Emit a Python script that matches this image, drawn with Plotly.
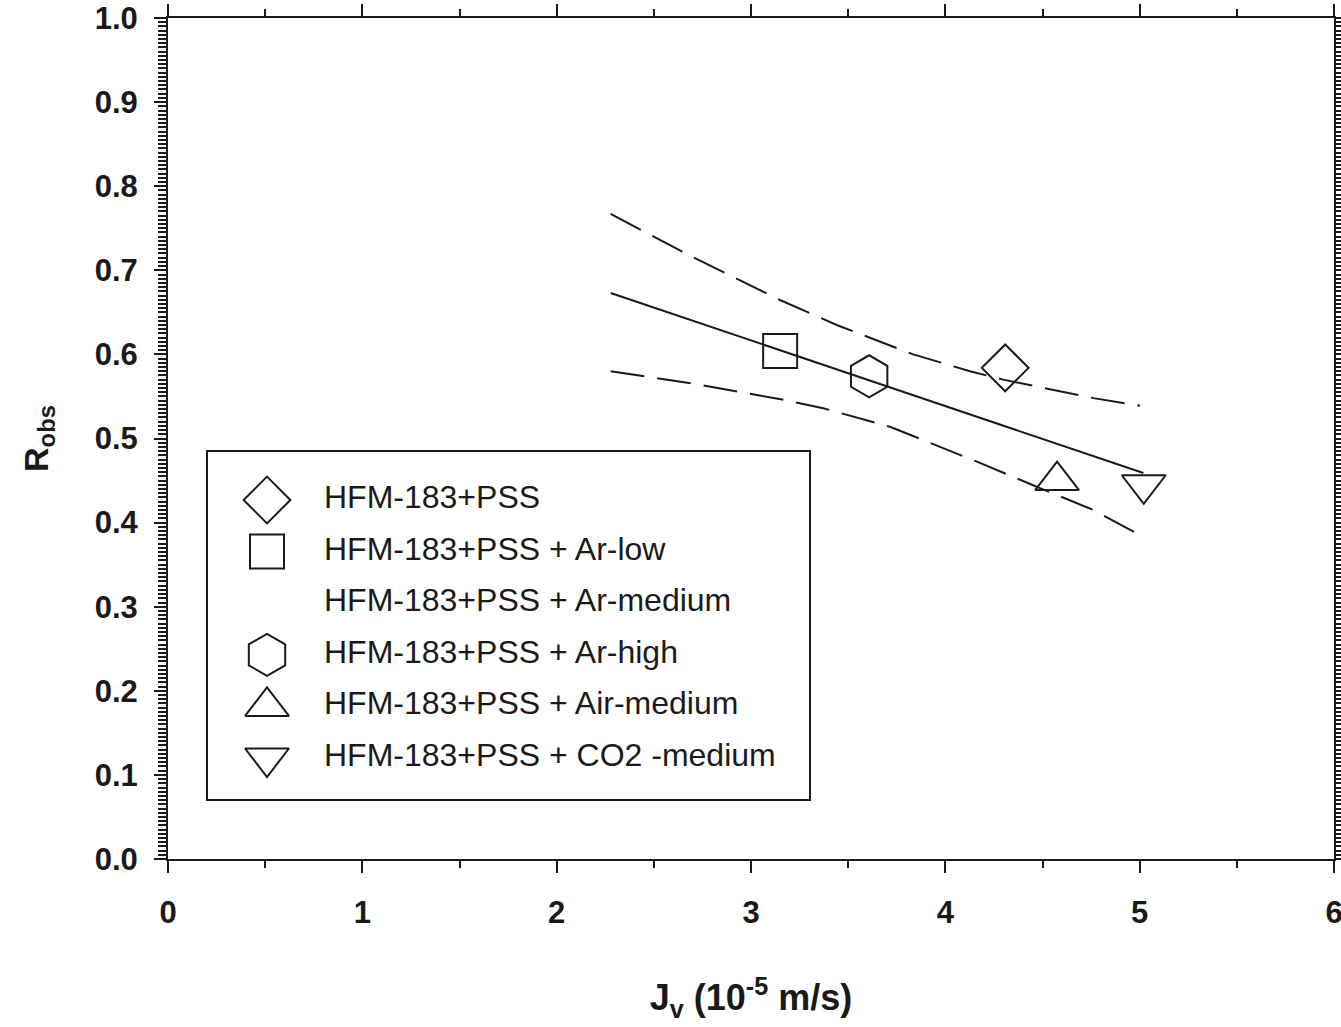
import plotly.graph_objects as go

# ---------------- data ----------------
series_names = [
    "HFM-183+PSS",
    "HFM-183+PSS + Ar-low",
    "HFM-183+PSS + Ar-medium",
    "HFM-183+PSS + Ar-high",
    "HFM-183+PSS + Air-medium",
    "HFM-183+PSS + CO2 -medium",
]
series_symbols = ["diamond-open", "square-open", None, "hexagon-open",
                  "triangle-up-open", "triangle-down-open"]
series_jv = [4.308, 3.150, None, 3.608, 4.575, 5.021]
series_robs = [0.584, 0.604, None, 0.574, 0.450, 0.445]

# regression line
fit_jv = [2.278, 5.019]
fit_robs = [0.673, 0.459]

# confidence band curves (dashed)
upper_jv = [2.278, 2.681, 3.146, 3.441, 3.835, 4.127, 4.298, 4.522, 4.762, 5.002]
upper_robs = [0.767, 0.718, 0.665, 0.635, 0.600, 0.580, 0.570, 0.559, 0.548, 0.539]
lower_jv = [2.278, 2.681, 3.146, 3.372, 3.715, 4.178, 4.487, 4.762, 5.002]
lower_robs = [0.580, 0.566, 0.547, 0.536, 0.514, 0.471, 0.441, 0.415, 0.385]

x_ticks = [0, 1, 2, 3, 4, 5, 6]
y_ticks = [0.0, 0.1, 0.2, 0.3, 0.4, 0.5, 0.6, 0.7, 0.8, 0.9, 1.0]

# ---------------- styling ----------------
W, H = 1341, 1027
L, R, T, B = 168, 1334, 18, 859
FONT = "Liberation Sans"
INK = "#1a1a1a"
marker_sizes = {"diamond-open": 36, "square-open": 34, "hexagon-open": 42,
                "triangle-up-open": 38, "triangle-down-open": 38}

fig = go.Figure()

# confidence bands
for bx, by in ((upper_jv, upper_robs), (lower_jv, lower_robs)):
    fig.add_trace(go.Scatter(x=bx, y=by, mode="lines", showlegend=False,
                             line=dict(color=INK, width=2, dash="34px,13px"),
                             hoverinfo="skip"))
# regression line
fig.add_trace(go.Scatter(x=fit_jv, y=fit_robs, mode="lines", showlegend=False,
                         line=dict(color=INK, width=2), hoverinfo="skip"))

# data points
for name, sym, xv, yv in zip(series_names, series_symbols, series_jv, series_robs):
    if sym is None or xv is None:
        continue
    fig.add_trace(go.Scatter(
        x=[xv], y=[yv], mode="markers", name=name, showlegend=False,
        cliponaxis=False,
        marker=dict(symbol=sym, size=marker_sizes[sym], color=INK,
                    line=dict(width=2, color=INK))))

# ---------------- custom legend (large keys) ----------------
box_l, box_r, box_t, box_b = 207, 810, 451, 800
key_x, row0, row_h, unit = 267, 500, 51.6, 57.0
leg_idx = list(range(len(series_names)))
for i, sym in enumerate(series_symbols):
    if sym is None:
        continue
    fig.add_trace(go.Scatter(
        x=[0], y=[i], mode="markers", xaxis="x3", yaxis="y3", showlegend=False,
        cliponaxis=False, hoverinfo="skip",
        marker=dict(symbol=sym, size=marker_sizes[sym], color=INK,
                    line=dict(width=2, color=INK))))
fig.add_trace(go.Scatter(
    x=[1] * len(series_names), y=leg_idx, mode="text", text=series_names,
    textposition="middle right", xaxis="x3", yaxis="y3", showlegend=False,
    cliponaxis=False, hoverinfo="skip",
    textfont=dict(family=FONT, size=32, color=INK)))

pw, ph = R - L, B - T
axis_common = dict(showline=True, linecolor=INK, linewidth=2, mirror="allticks",
                   ticks="outside", tickwidth=2, tickcolor=INK, ticklen=12,
                   showgrid=False, zeroline=False, automargin=False,
                   ticklabeloverflow="allow",
                   tickfont=dict(family=FONT, size=31, color=INK, weight="bold"))

fig.update_layout(
    width=W, height=H,
    margin=dict(l=L, r=W - R, t=T, b=H - B, pad=0, autoexpand=False),
    paper_bgcolor="white", plot_bgcolor="white",
    showlegend=False,
    font=dict(family=FONT, color=INK),
    xaxis=dict(range=[0, 6], tickvals=x_ticks, ticktext=[str(v) for v in x_ticks],
               ticklabelstandoff=13,
               minor=dict(ticks="outside", dtick=0.5, ticklen=7, tickwidth=2,
                          tickcolor=INK),
               title=dict(text="J<sub>v</sub> (10<sup>-5</sup> m/s)", standoff=56,
                          font=dict(family=FONT, size=36, color=INK, weight="bold")),
               **axis_common),
    yaxis=dict(range=[0, 1], tickvals=y_ticks, ticktext=[f"{v:.1f}" for v in y_ticks],
               ticklabelstandoff=10,
               minor=dict(ticks="outside", dtick=0.005, ticklen=8, tickwidth=2,
                          tickcolor=INK),
               title=dict(text="R<sub>obs</sub>", standoff=36,
                          font=dict(family=FONT, size=34, color=INK, weight="bold")),
               **axis_common),
    xaxis3=dict(domain=[(box_l - L) / pw, (box_r - L) / pw], anchor="y3",
                range=[-(key_x - box_l) / unit, (box_r - key_x) / unit],
                visible=False, fixedrange=True),
    yaxis3=dict(domain=[(B - box_b) / ph, (B - box_t) / ph], anchor="x3",
                range=[(box_b - row0) / row_h, -(row0 - box_t) / row_h],
                visible=False, fixedrange=True),
    shapes=[dict(type="rect", xref="x3 domain", yref="y3 domain",
                 x0=0, x1=1, y0=0, y1=1, line=dict(color=INK, width=2),
                 fillcolor="rgba(0,0,0,0)")],
)

fig.write_html("out.html")
